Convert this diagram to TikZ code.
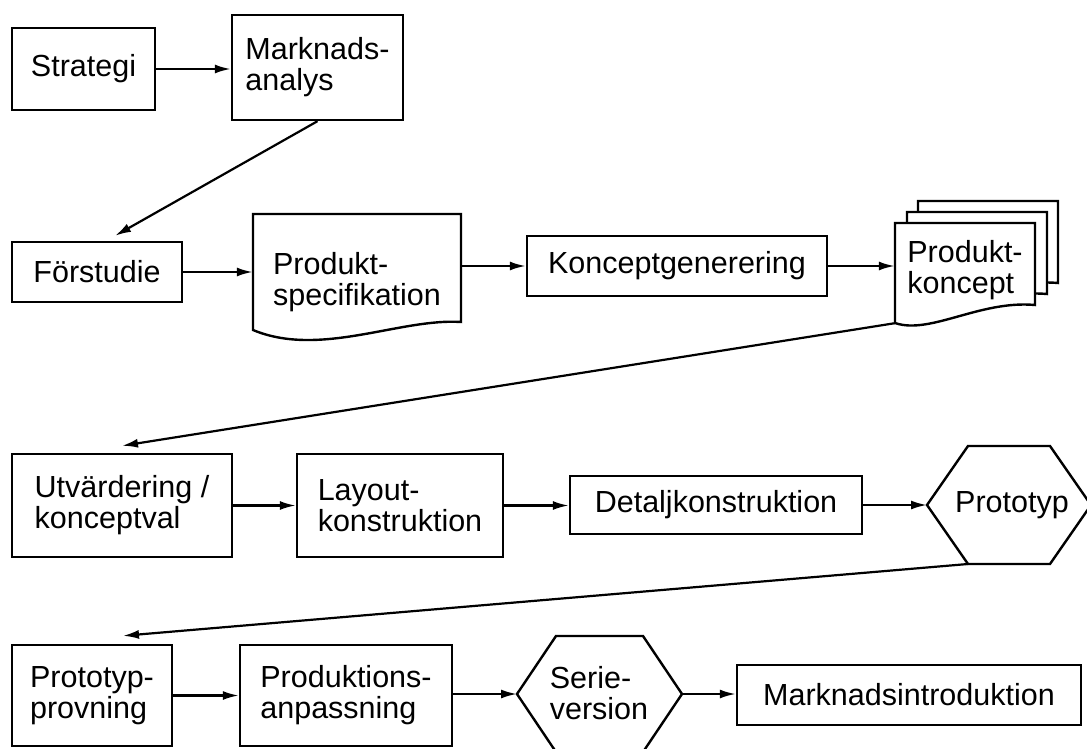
\documentclass[tikz,border=0pt]{standalone}
\usepackage{fontspec}
\setmainfont{Liberation Sans}
\usetikzlibrary{arrows.meta}
\tikzset{
  box/.style={draw, line width=2.4pt, align=left, inner sep=0pt},
  txt/.style={align=left, inner sep=0pt},
  flow/.style={line width=2.2pt, -{Latex[length=16pt,width=9pt]}},
  outline/.style={line width=2.4pt, line join=miter}
}
\begin{document}
\begin{tikzpicture}[x=1pt, y=-1pt, font=\fontsize{30.5}{31}\selectfont]
\useasboundingbox (0,0) rectangle (1087,749);

% rad 1
\node[box, minimum width=143, minimum height=82] (strat) at (83.5,69) {Strategi};
\node[box, minimum width=171, minimum height=105] (mark) at (317.5,67.5) {Marknads-\\analys};

% rad 2
\node[box, minimum width=170, minimum height=60] (forst) at (97,272) {Förstudie};
\draw[outline] (253,330) -- (253,214) -- (461,214) -- (461,322)
  .. controls (400,318) and (320,358) .. (253,330) -- cycle;
\node[txt, minimum width=208, minimum height=132] (spec) at (357,282) {Produkt-\\specifikation};
\node[box, minimum width=300, minimum height=60] (kgen) at (677,266) {Konceptgenerering};
\foreach \dx/\dy in {23/-22, 12/-11, 0/0}
  \draw[outline, fill=white, shift={(\dx,\dy)}] (895,323) -- (895,223) -- (1035,223) -- (1035,305)
    .. controls (980,300) and (930,335) .. (895,323) -- cycle;
\node[txt, minimum width=140, minimum height=106] (konc) at (965,270) {Produkt-\\koncept};

% rad 3
\node[box, minimum width=220, minimum height=103] (utv) at (122,505.5) {Utvärdering /\\konceptval};
\node[box, minimum width=206, minimum height=103] (lay) at (400,505.5) {Layout-\\konstruktion};
\node[box, minimum width=292, minimum height=58] (det) at (716,505) {Detaljkonstruktion};
\draw[outline] (927,505) -- (968,446) -- (1050,446) -- (1091,505) -- (1050,564) -- (968,564) -- cycle;
\coordinate (protoW) at (927,505);
\coordinate (protoSW) at (968,564);
\node (proto) at (1012,505) {Prototyp};

% rad 4
\node[box, minimum width=160, minimum height=101] (prov) at (92,695.5) {Prototyp-\\provning};
\node[box, minimum width=212, minimum height=101] (prod) at (346,695.5) {Produktions-\\anpassning};
\draw[outline] (517,694) -- (556,636) -- (643,636) -- (682,694) -- (643,752) -- (556,752) -- cycle;
\coordinate (serieW) at (517,694);
\coordinate (serieE) at (682,694);
\node[txt] (serie) at (599,693) {Serie-\\version};
\node[box, minimum width=344, minimum height=60] (intro) at (909,695) {Marknadsintroduktion};

% pilar
\draw[flow] (strat) -- (strat -| mark.west);
\draw[flow] (mark.south) -- ([xshift=18, yshift=5]forst.north);
\draw[flow] (forst) -- (forst -| spec.west);
\draw[flow] (kgen.west -| spec.east) -- (kgen.west);
\draw[flow] (kgen) -- (kgen -| konc.west);
\draw[flow] (konc.south west) -- ([yshift=7]utv.north);
\draw[flow] (utv) -- (utv -| lay.west);
\draw[flow] (lay) -- (lay -| det.west);
\draw[flow] (det) -- (protoW);
\draw[flow] (protoSW) -- ([xshift=31, yshift=8]prov.north);
\draw[flow] (prov) -- (prov -| prod.west);
\draw[flow] (prod.east |- serieW) -- (serieW);
\draw[flow] (serieE) -- (serieE -| intro.west);
\end{tikzpicture}
\end{document}
